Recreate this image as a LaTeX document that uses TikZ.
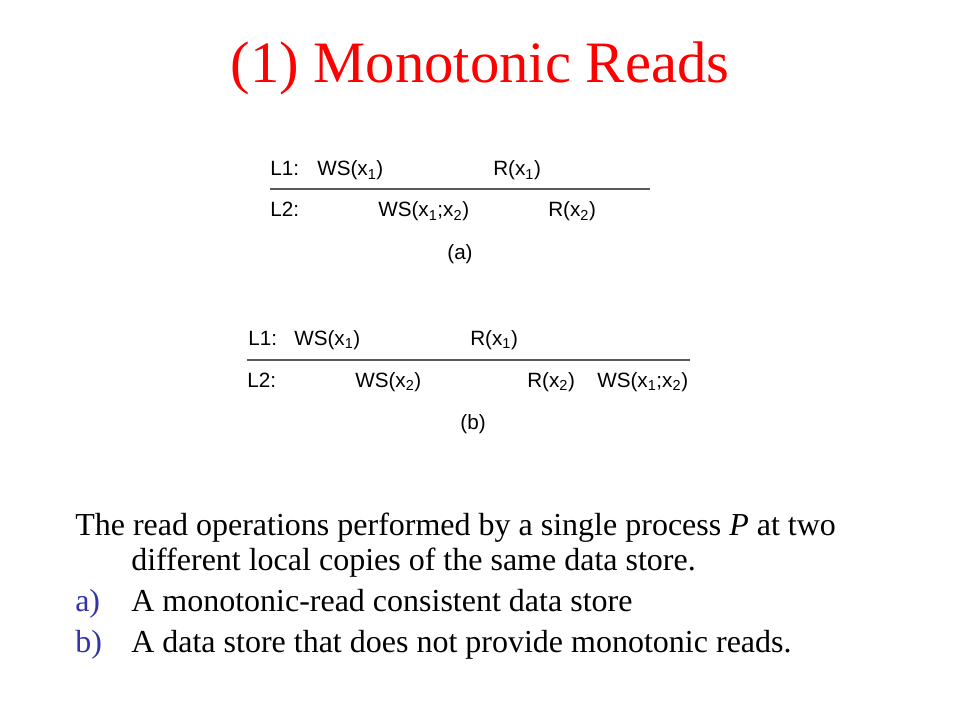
\documentclass[tikz,border=0pt]{standalone}
\usepackage{fontspec}
\setmainfont{Liberation Serif}
\newfontfamily\arialfont{Liberation Sans}
\definecolor{titlered}{RGB}{255,0,0}
\definecolor{itemblue}{RGB}{51,51,170}
\usetikzlibrary{positioning}

\begin{document}
\begin{tikzpicture}[x=0.75pt, y=-0.75pt,
    optext/.style={anchor=base west, inner sep=0pt, font=\arialfont\fontsize{15.5}{18}\selectfont},
    caption/.style={anchor=base, inner sep=0pt, font=\arialfont\fontsize{15.5}{18}\selectfont},
    bodytext/.style={anchor=base west, inner sep=0pt, font=\fontsize{24}{28}\selectfont},
    itemmark/.style={bodytext, text=itemblue},
    timeline/.style={draw=black!65, line width=0.8pt}]
    \useasboundingbox (0,0) rectangle (960,720);
    % Title
    \node[anchor=base, inner sep=0pt, text=titlered, font=\fontsize{44}{50}\selectfont] (title) at (480,83) {(1) Monotonic Reads};

    % Diagram (a)
    \node[optext] (a L1) at (270,176) {L1:};
    \node[optext] (a ws1) at (317,176) {WS(x\textsubscript{1})};
    \node[optext] (a r1) at (493,176) {R(x\textsubscript{1})};
    \coordinate (a start) at (270,189);
    \coordinate (a end) at (650,189);
    \draw[timeline] (a start) -- (a end);
    \node[optext] (a L2) at (270,217) {L2:};
    \node[optext] (a ws12) at (378,217) {WS(x\textsubscript{1};x\textsubscript{2})};
    \node[optext] (a r2) at (548,217) {R(x\textsubscript{2})};
    \node[caption] (a cap) at (460,260) {(a)};

    % Diagram (b)
    \node[optext] (b L1) at (248,345) {L1:};
    \node[optext] (b ws1) at (294,345) {WS(x\textsubscript{1})};
    \node[optext] (b r1) at (470,345) {R(x\textsubscript{1})};
    \coordinate (b start) at (247,360);
    \coordinate (b end) at (690,360);
    \draw[timeline] (b start) -- (b end);
    \node[optext] (b L2) at (247,387) {L2:};
    \node[optext] (b ws2) at (355,387) {WS(x\textsubscript{2})};
    \node[optext] (b r2) at (527,387) {R(x\textsubscript{2})};
    \node[optext] (b ws12) at (597,387) {WS(x\textsubscript{1};x\textsubscript{2})};
    \node[caption] (b cap) at (473,429) {(b)};

    % Description
    \node[bodytext] (desc1) at (75,535) {The read operations performed by a single process \textit{P} at two};
    \node[bodytext] (desc2) at (131,570) {different local copies of the same data store.};
    \node[itemmark] (mark a) at (75,611) {a)};
    \node[bodytext] (item a) at (131,611) {A monotonic-read consistent data store};
    \node[itemmark] (mark b) at (75,652) {b)};
    \node[bodytext] (item b) at (131,652) {A data store that does not provide monotonic reads.};
\end{tikzpicture}
\end{document}
